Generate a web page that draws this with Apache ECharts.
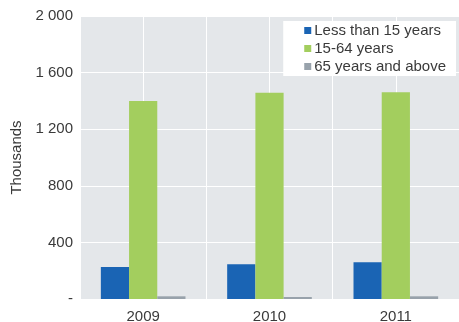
<!DOCTYPE html>
<html>
<head>
<meta charset="utf-8">
<script src="https://cdn.jsdelivr.net/npm/echarts@6/dist/echarts.min.js"></script>
<style>
  html, body { margin: 0; padding: 0; background: #fff; }
  #chart { width: 459px; height: 322px; }
</style>
</head>
<body>
<div id="chart"></div>
<script>
// population by age group, thousands
const years = ['2009', '2010', '2011']
const under15 = [226, 245, 259]
const age15to64 = [1399, 1458, 1461]
const over65 = [19, 14, 19]
const halfSlots = ['a', 'b', 'c', 'd', 'e', 'f']

const fmt = (v) => {
  if (v === 0) return '-'
  return String(v).replace(/\B(?=(\d{3})+(?!\d))/g, ' ')
}

const chart = echarts.init(document.getElementById('chart'))
chart.setOption({
  textStyle: { fontFamily: 'Liberation Sans, Arial, sans-serif' },
  grid: {
    left: 80,
    right: 0,
    top: 16,
    bottom: 23,
    outerBoundsMode: 'none',
    containLabel: false,
    show: true,
    backgroundColor: '#e4e7ea',
    borderWidth: 0,
  },
  legend: {
    orient: 'vertical',
    right: 3,
    top: 21,
    backgroundColor: '#fff',
    padding: [2, 10, 2, 21],
    itemWidth: 7,
    itemHeight: 7,
    itemGap: 3,
    icon: 'rect',
    textStyle: { fontSize: 15, color: '#3a3a3a', padding: [0, 0, 0, -2] },
    data: ['Less than 15 years', '15-64 years', '65 years and above'],
  },
  xAxis: [{
    type: 'category',
    data: years,
    axisLine: { show: false },
    axisTick: { show: false },
    splitLine: { show: false },
    axisLabel: { fontSize: 15, color: '#3a3a3a', margin: 10 },
  }, {
    type: 'category',
    data: halfSlots,
    position: 'bottom',
    axisLine: { show: false },
    axisTick: { show: false },
    axisLabel: { show: false },
    splitLine: { show: true, interval: 0, lineStyle: { color: '#fff', width: 1 } },
  }],
  yAxis: {
    type: 'value',
    min: 0,
    max: 2000,
    interval: 400,
    name: 'Thousands',
    nameLocation: 'middle',
    nameGap: 55,
    nameTextStyle: { fontSize: 15, color: '#3a3a3a' },
    axisLine: { show: false },
    axisTick: { show: false },
    splitLine: { lineStyle: { color: '#fff', width: 1 } },
    axisLabel: { fontSize: 15, color: '#3a3a3a', margin: 7, formatter: fmt },
  },
  series: [{
    name: 'Less than 15 years',
    type: 'bar',
    data: under15,
    barGap: '0%',
    barCategoryGap: '33%',
    itemStyle: { color: '#1a64b4' },
  }, {
    name: '15-64 years',
    type: 'bar',
    data: age15to64,
    barGap: '0%',
    barCategoryGap: '33%',
    itemStyle: { color: '#a3ce5e' },
  }, {
    name: '65 years and above',
    type: 'bar',
    data: over65,
    barGap: '0%',
    barCategoryGap: '33%',
    itemStyle: { color: '#98a2ab' },
  }],
})
</script>
</body>
</html>
